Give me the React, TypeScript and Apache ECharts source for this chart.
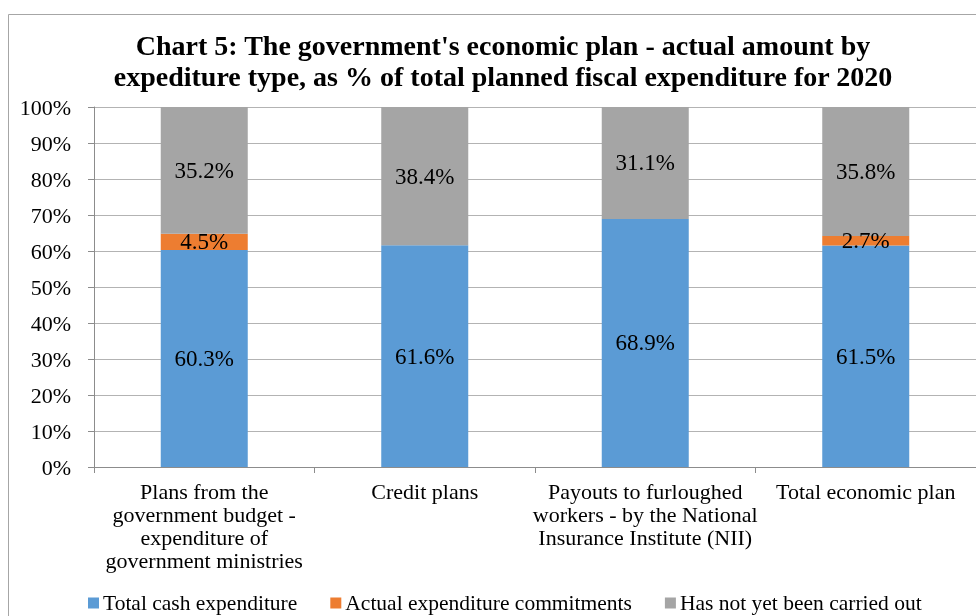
import React, { useEffect, useRef } from "react";
import * as echarts from "echarts";

const categories = [
  "Plans from the\ngovernment budget -\nexpenditure of\ngovernment ministries",
  "Credit plans",
  "Payouts to furloughed\nworkers - by the National\nInsurance Institute (NII)",
  "Total economic plan",
];
const seriesNames = [
  "Total cash expenditure",
  "Actual expenditure commitments",
  "Has not yet been carried out",
];
const cashValues = [60.3, 61.6, 68.9, 61.5];
const commitmentValues = [4.5, 0, 0, 2.7];
const notCarriedValues = [35.2, 38.4, 31.1, 35.8];
const colors = ["#5B9BD5", "#ED7D31", "#A5A5A5"];
const titleText =
  "Chart 5: The government's economic plan - actual amount by\nexpediture type, as % of total planned fiscal expenditure for 2020";

const FONT = "'Liberation Serif', 'Times New Roman', serif";

export default function App() {
  const ref = useRef<HTMLDivElement>(null);
  useEffect(() => {
    if (!ref.current) return;
    const chart = echarts.init(ref.current, undefined, { renderer: "svg" });
    const values = [cashValues, commitmentValues, notCarriedValues];
    chart.setOption({
      animation: false,
      textStyle: { fontFamily: FONT },
      title: {
        text: titleText,
        left: 498,
        top: 25,
        textAlign: "center",
        textStyle: {
          fontFamily: FONT,
          fontSize: 28,
          fontWeight: "bold",
          color: "#000",
          lineHeight: 31,
        },
      },
      graphic: [
        {
          type: "rect",
          shape: { x: 8.5, y: 14.5, width: 1200, height: 1200 },
          style: { fill: "none", stroke: "#A6A6A6", lineWidth: 1 },
          silent: true,
        },
      ],
      legend: {
        left: 88,
        top: 592,
        padding: 0,
        icon: "rect",
        itemWidth: 11,
        itemHeight: 11,
        itemGap: 33,
        textStyle: { fontFamily: FONT, fontSize: 21.5, color: "#000", padding: [0, 0, 0, -1] },
        data: seriesNames,
      },
      grid: { left: 94, right: 0, top: 107, bottom: 149, containLabel: false },
      xAxis: {
        type: "category",
        data: categories,
        axisLine: { lineStyle: { color: "#8C8C8C" } },
        axisTick: { show: true, length: 6, lineStyle: { color: "#8C8C8C" } },
        axisLabel: {
          interval: 0,
          margin: 13,
          fontFamily: FONT,
          fontSize: 22,
          lineHeight: 23,
          color: "#000",
          align: "center",
        },
      },
      yAxis: {
        type: "value",
        min: 0,
        max: 100,
        interval: 10,
        axisLine: { show: true, lineStyle: { color: "#8C8C8C" } },
        axisTick: { show: true, length: 6, lineStyle: { color: "#8C8C8C" } },
        splitLine: { lineStyle: { color: "#B3B3B3" } },
        axisLabel: {
          margin: 23,
          fontFamily: FONT,
          fontSize: 22,
          color: "#000",
          formatter: "{value}%",
        },
      },
      series: seriesNames.map((name, i) => ({
        name,
        type: "bar",
        stack: "total",
        barWidth: 87,
        data: values[i],
        itemStyle: { color: colors[i] },
        label: {
          show: true,
          position: "inside",
          fontFamily: FONT,
          fontSize: 23,
          color: "#000",
          formatter: (p: any) => (p.value > 0 ? p.value.toFixed(1) + "%" : ""),
        },
      })),
    });
    return () => chart.dispose();
  }, []);
  return (
    <div
      ref={ref}
      style={{ position: "fixed", left: 0, top: 0, width: 976, height: 616 }}
    />
  );
}
